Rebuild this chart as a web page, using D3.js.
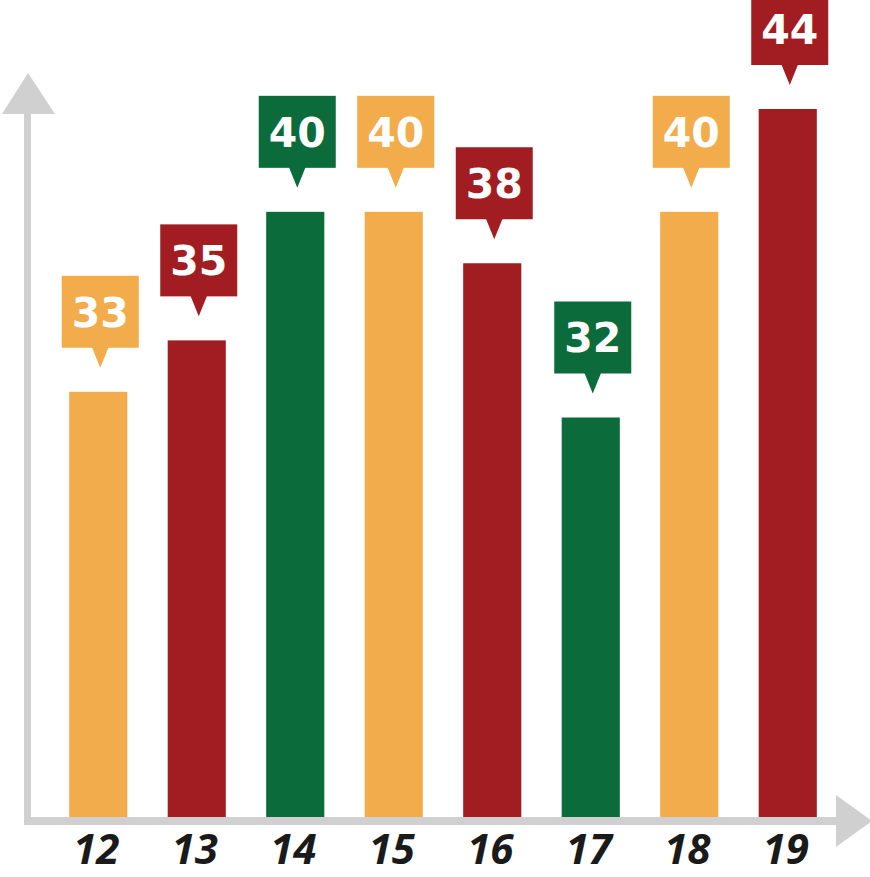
<!DOCTYPE html>
<html>
<head>
<meta charset="utf-8">
<script src="https://cdn.jsdelivr.net/npm/d3@7"></script>
<style>
  html, body { margin: 0; padding: 0; background: #ffffff; }
  svg { display: block; }
</style>
</head>
<body>
<div id="chart"></div>
<script>
// data
let years = ["12", "13", "14", "15", "16", "17", "18", "19"];
let values = [33, 35, 40, 40, 38, 32, 40, 44];
let colorKeys = ["orange", "red", "green", "orange", "red", "green", "orange", "red"];

let width = 870;
let height = 877;
let baseY = 817;

let colors = d3.scaleOrdinal()
    .domain(["orange", "red", "green"])
    .range(["#F2AC4C", "#A11D21", "#0B6B3A"]);

let axisColor = "#CFD0CF";

let svg = d3.select("#chart")
    .append("svg")
    .attr("width", width)
    .attr("height", height);

// bar positions: step ~98.5px, first bar centre at 98
let xScale = d3.scaleBand()
    .domain(years)
    .range([49, 49 + 98.5 * 8])
    .paddingInner(0.41)
    .paddingOuter(0.205);

// the picture's bars are not zero based, fit a linear scale to them
let yScale = d3.scaleLinear()
    .domain([16.46, 44])
    .range([baseY, 109]);

// bars
svg.selectAll(".bar")
    .data(years)
    .enter()
    .append("rect")
    .attr("class", "bar")
    .attr("x", d => xScale(d))
    .attr("width", xScale.bandwidth())
    .attr("y", (d, i) => yScale(values[i]))
    .attr("height", (d, i) => baseY - yScale(values[i]))
    .attr("fill", (d, i) => colors(colorKeys[i]));

// value callouts
let boxW = 77, boxH = 72, gap = 44, tipH = 20, tipW = 17;
let callouts = svg.selectAll(".callout")
    .data(years)
    .enter()
    .append("g")
    .attr("class", "callout")
    .attr("transform", (d, i) => {
        let cx = xScale(d) + xScale.bandwidth() / 2 + 2;
        let by = yScale(values[i]) - gap;
        return "translate(" + cx + "," + by + ")";
    });

callouts.append("rect")
    .attr("x", -boxW / 2)
    .attr("y", -boxH)
    .attr("width", boxW)
    .attr("height", boxH)
    .attr("fill", (d, i) => colors(colorKeys[i]));

callouts.append("path")
    .attr("d", "M" + (-tipW / 2) + ",-1L" + (tipW / 2) + ",-1L0," + tipH + "Z")
    .attr("fill", (d, i) => colors(colorKeys[i]));

callouts.append("text")
    .attr("x", 0)
    .attr("y", -boxH / 2 + 15)
    .attr("text-anchor", "middle")
    .style("font-family", "DejaVu Sans")
    .style("font-weight", "bold")
    .style("font-size", "41px")
    .style("fill", "#ffffff")
    .text((d, i) => values[i]);

// axes
svg.append("line")
    .attr("x1", 27.5).attr("y1", 112)
    .attr("x2", 27.5).attr("y2", 825)
    .attr("stroke", axisColor)
    .attr("stroke-width", 7);

svg.append("path")
    .attr("d", "M2,114L28,73L55,114Z")
    .attr("fill", axisColor);

svg.append("line")
    .attr("x1", 24).attr("y1", 821)
    .attr("x2", 840).attr("y2", 821)
    .attr("stroke", axisColor)
    .attr("stroke-width", 8);

svg.append("path")
    .attr("d", "M836,795L872,821L836,847Z")
    .attr("fill", axisColor);

// year labels
let xAxis = d3.axisBottom(xScale).tickSize(0).tickPadding(0);
let gx = svg.append("g")
    .attr("transform", "translate(-2," + 864 + ")")
    .call(xAxis);
gx.select(".domain").remove();
gx.selectAll("text")
    .attr("dy", 0)
    .attr("y", 0)
    .style("font-family", "'Open Sans'")
    .style("font-weight", "700")
    .style("font-style", "italic")
    .style("font-size", "42px")
    .style("fill", "#1a1a1a");
</script>
</body>
</html>
